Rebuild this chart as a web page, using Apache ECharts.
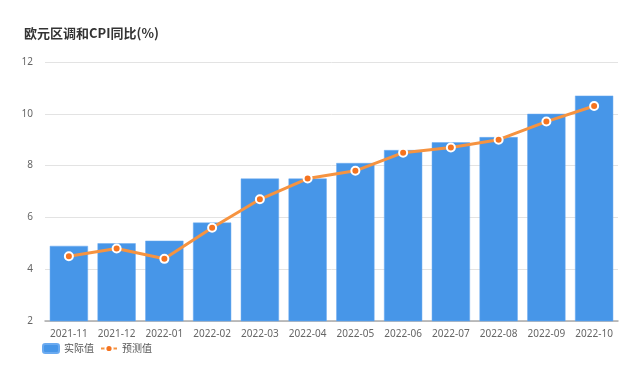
<!DOCTYPE html>
<html><head><meta charset="utf-8">
<script src="https://cdn.jsdelivr.net/npm/echarts@6/dist/echarts.min.js"></script>
<style>html,body{margin:0;padding:0;background:#fff}#c{width:640px;height:369px}</style>
</head><body><div id="c"></div>
<script>
const categories = ['2021-11','2021-12','2022-01','2022-02','2022-03','2022-04','2022-05','2022-06','2022-07','2022-08','2022-09','2022-10'];
const actual = [4.9,5.0,5.1,5.8,7.5,7.5,8.1,8.6,8.9,9.1,10.0,10.7];
const forecast = [4.5,4.8,4.4,5.6,6.7,7.5,7.8,8.5,8.7,9.0,9.7,10.3];
const chart = echarts.init(document.getElementById('c'));
chart.setOption({
  animation:false,
  title:{text:'欧元区调和CPI同比(%)',left:19,top:22,textStyle:{fontSize:13,fontWeight:'bold',color:'#333',fontFamily:'Noto Sans CJK SC'}},
  legend:{left:37,bottom:10,itemWidth:16,itemHeight:9,itemGap:6,textStyle:{fontSize:10,color:'#555',fontFamily:'Noto Sans CJK SC'},
    data:[{name:'实际值',icon:'roundRect'},{name:'预测值'}]},
  grid:{left:45,right:22,top:62,bottom:48},
  xAxis:{type:'category',data:categories,axisTick:{show:false},axisLine:{lineStyle:{color:'#aaa',width:1.5}},
    axisLabel:{color:'#666',fontSize:10,margin:8,interval:0,fontFamily:'Noto Sans'}},
  yAxis:{type:'value',min:2,max:12,interval:2,axisLabel:{color:'#666',fontSize:10,margin:12,fontFamily:'Noto Sans'},
    splitLine:{lineStyle:{color:'#e3e3e3'}},axisLine:{show:false},axisTick:{show:false}},
  series:[
    {name:'实际值',type:'bar',data:actual,barCategoryGap:'20%',itemStyle:{color:'#4796e8',borderColor:'#6aaaf0',borderWidth:0.5}},
    {name:'预测值',type:'line',data:forecast,symbol:'circle',symbolSize:8,lineStyle:{color:'#f69340',width:3},
      itemStyle:{color:'#f5731f',borderColor:'#fff',borderWidth:2}}
  ]
});
</script></body></html>
